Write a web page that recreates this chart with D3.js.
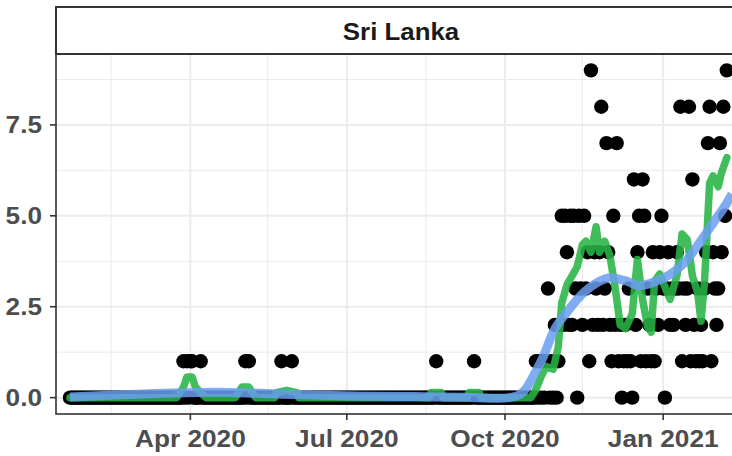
<!DOCTYPE html>
<html>
<head>
<meta charset="utf-8">
<script src="https://cdn.jsdelivr.net/npm/d3@7"></script>
<style>
  html, body { margin: 0; padding: 0; background: #ffffff; }
  svg { display: block; }
</style>
</head>
<body>
<svg id="chart" width="732" height="456"></svg>
<script>
// ---------------- DATA ----------------
const facetTitle = "Sri Lanka";
const firstDay = "2020-01-22";

// Daily deaths, one digit per day, starting at firstDay (one string per month)
const deathsByMonth = [
  "0000000000",                                   // Jan 22-31 2020
  "0000000000 0000000000 000000000",              // Feb 2020
  "0000000000 0000000000 0000000 1010",           // Mar 2020
  "1100001 0000000000 0000000000 000",            // Apr 2020
  "00101 0000000000 00000000 1 00000 10",         // May 2020
  "0000000000 0000000000 0000000000",             // Jun 2020
  "0000000000 0000000000 0000000000 0",           // Jul 2020
  "0000000000 0000000000 0 1 000000000",          // Aug 2020
  "0000000000 00 1 0000000000 0000000",           // Sep 2020
  "0000000000 00000000 1010101301020",            // Oct 2020
  "1252542525 3053253419 2432482374",             // Nov 2020
  "2152712012 1310624516 5132141324 5",           // Dec 2020
  "3034232343 8132381621 3121347814 3",           // Jan 2021
  "2374859"                                       // Feb 1-7 2021
];

// 7-day average line (green)
const avgDates = ["2020-01-22","2020-03-24","2020-03-26","2020-03-28","2020-03-30","2020-04-02","2020-04-04","2020-04-07","2020-04-10",
  "2020-04-27","2020-04-29","2020-05-01","2020-05-05","2020-05-07","2020-05-09","2020-05-20","2020-05-21","2020-05-27","2020-06-02","2020-06-03",
  "2020-08-18","2020-08-19","2020-08-25","2020-08-26","2020-09-09","2020-09-10","2020-09-16","2020-09-17",
  "2020-10-16","2020-10-19","2020-10-22","2020-10-25","2020-10-29","2020-11-01","2020-11-03","2020-11-06","2020-11-09","2020-11-12",
  "2020-11-15","2020-11-17","2020-11-20","2020-11-23","2020-11-25","2020-11-28","2020-12-01","2020-12-04","2020-12-07","2020-12-10",
  "2020-12-14","2020-12-17","2020-12-20","2020-12-23","2020-12-25","2020-12-27","2020-12-30","2021-01-02","2021-01-05","2021-01-09",
  "2021-01-12","2021-01-15","2021-01-18","2021-01-21","2021-01-23","2021-01-25","2021-01-27","2021-01-28","2021-01-30","2021-02-02",
  "2021-02-04","2021-02-07"];
const avgValues = [0,0,0.14,0.29,0.57,0.57,0.29,0.14,0,
  0,0.14,0.29,0.29,0.14,0,0,0.14,0.2,0.14,0,
  0,0.14,0.14,0,0,0.14,0.14,0,
  0,0.22,0.58,0.86,0.78,1.4,2.6,3.1,3.35,3.6,
  4.2,4.3,4.0,4.7,4.0,4.3,3.9,3.05,2.0,1.9,
  2.3,3.8,2.7,1.95,1.8,3.2,3.4,3.05,2.7,3.35,
  4.5,4.35,3.35,2.9,2.1,3.15,5.0,5.9,6.1,5.8,
  6.2,6.6];

// Smoothed trend (blue)
const trendDates = ["2020-01-22","2020-02-21","2020-03-22","2020-04-16","2020-05-11","2020-06-10","2020-07-10","2020-08-09",
  "2020-09-08","2020-09-28","2020-10-06","2020-10-10","2020-10-14","2020-10-17","2020-10-23","2020-10-29","2020-11-06",
  "2020-11-15","2020-11-25","2020-12-01","2020-12-11","2020-12-18","2020-12-28","2021-01-07","2021-01-15","2021-01-22",
  "2021-01-30","2021-02-07","2021-02-10"];
const trendValues = [0.02,0.08,0.13,0.15,0.12,0.07,0.04,0.03,
  0.01,-0.02,0.02,0.1,0.3,0.55,1.1,1.8,2.35,
  2.85,3.2,3.3,3.2,3.08,3.2,3.45,3.8,4.25,
  4.8,5.35,5.6];

const yTicks = [0, 2.5, 5, 7.5];
const yMinor = [1.25, 3.75, 6.25, 8.75];
const xTickDates = ["2020-04-01","2020-07-01","2020-10-01","2021-01-01"];
const xTickLabels = ["Apr 2020","Jul 2020","Oct 2020","Jan 2021"];
const xMinorDates = ["2020-02-15","2020-05-16","2020-08-16","2020-11-15","2021-02-15"];

// ---------------- BUILD ----------------
const parse = d3.utcParse("%Y-%m-%d");
const dailyDeaths = deathsByMonth.join("").replace(/\s/g, "").split("").map(Number);
const start = parse(firstDay);
const points = dailyDeaths.map((v, i) => ({ date: d3.utcDay.offset(start, i), value: v }));
const avg = avgDates.map((d, i) => ({ date: parse(d), value: avgValues[i] }));
const trend = trendDates.map((d, i) => ({ date: parse(d), value: trendValues[i] }));

const svg = d3.select("#chart");
const panel = { left: 56, right: 746, top: 54, bottom: 414 };
const strip = { top: 7, bottom: 54 };

const x = d3.scaleUtc()
  .domain([start, points[points.length - 1].date])
  .range([70, 726.8]);
const y = d3.scaleLinear().domain([-0.45, 9.45]).range([panel.bottom, panel.top]);

const FONT = "'Liberation Sans', Arial, Helvetica, sans-serif";

// panel background
svg.append("rect").attr("x", panel.left).attr("y", panel.top)
  .attr("width", panel.right - panel.left).attr("height", panel.bottom - panel.top)
  .attr("fill", "#ffffff");

svg.append("clipPath").attr("id", "clip").append("rect")
  .attr("x", panel.left).attr("y", panel.top)
  .attr("width", panel.right - panel.left).attr("height", panel.bottom - panel.top);

const grid = svg.append("g").attr("clip-path", "url(#clip)");
// minor grid
grid.selectAll(".ym").data(yMinor).join("line")
  .attr("x1", panel.left).attr("x2", panel.right)
  .attr("y1", d => y(d)).attr("y2", d => y(d))
  .attr("stroke", "#ebebeb").attr("stroke-width", 1);
grid.selectAll(".xm").data(xMinorDates.map(parse)).join("line")
  .attr("y1", panel.top).attr("y2", panel.bottom)
  .attr("x1", d => x(d)).attr("x2", d => x(d))
  .attr("stroke", "#ebebeb").attr("stroke-width", 1);
// major grid
grid.selectAll(".yM").data(yTicks).join("line")
  .attr("x1", panel.left).attr("x2", panel.right)
  .attr("y1", d => y(d)).attr("y2", d => y(d))
  .attr("stroke", "#ebebeb").attr("stroke-width", 2);
grid.selectAll(".xM").data(xTickDates.map(parse)).join("line")
  .attr("y1", panel.top).attr("y2", panel.bottom)
  .attr("x1", d => x(d)).attr("x2", d => x(d))
  .attr("stroke", "#ebebeb").attr("stroke-width", 2);

const plot = svg.append("g").attr("clip-path", "url(#clip)");

// black points
plot.selectAll("circle").data(points).join("circle")
  .attr("cx", d => x(d.date)).attr("cy", d => y(d.value))
  .attr("r", 7.2).attr("fill", "#000000");

// green 7-day average
plot.append("path").datum(avg)
  .attr("d", d3.line().x(d => x(d.date)).y(d => y(d.value)).curve(d3.curveLinear))
  .attr("fill", "none").attr("stroke", "#28b446").attr("stroke-opacity", 0.88)
  .attr("stroke-width", 7.5).attr("stroke-linejoin", "round").attr("stroke-linecap", "round");

// blue smooth trend
plot.append("path").datum(trend)
  .attr("d", d3.line().x(d => x(d.date)).y(d => y(d.value)).curve(d3.curveMonotoneX))
  .attr("fill", "none").attr("stroke", "#6a9ff0").attr("stroke-opacity", 0.85)
  .attr("stroke-width", 9).attr("stroke-linecap", "butt");

// panel border
svg.append("rect").attr("x", panel.left).attr("y", panel.top)
  .attr("width", panel.right - panel.left).attr("height", panel.bottom - panel.top)
  .attr("fill", "none").attr("stroke", "#333333").attr("stroke-width", 1.6);

// strip
svg.append("rect").attr("x", panel.left).attr("y", strip.top)
  .attr("width", panel.right - panel.left).attr("height", strip.bottom - strip.top)
  .attr("fill", "#ffffff").attr("stroke", "#333333").attr("stroke-width", 2);

function stretchedText(parent, tx, ty, str, anchor, size, color, sx) {
  parent.append("g").attr("transform", `translate(${tx},${ty}) scale(${sx},1)`)
    .append("text").attr("x", 0).attr("y", 0)
    .attr("text-anchor", anchor)
    .attr("font-family", FONT).attr("font-weight", "bold")
    .attr("font-size", size).attr("fill", color)
    .text(str);
}

stretchedText(svg, (panel.left + panel.right) / 2, 40, facetTitle, "middle", 23.5, "#1a1a1a", 1.1);

// y axis ticks and labels
const yAxis = svg.append("g");
yAxis.selectAll("line").data(yTicks).join("line")
  .attr("x1", panel.left - 6).attr("x2", panel.left)
  .attr("y1", d => y(d)).attr("y2", d => y(d))
  .attr("stroke", "#333333").attr("stroke-width", 1.6);
yTicks.forEach(t => {
  stretchedText(yAxis, 42, y(t) + 8, d3.format(".1f")(t), "end", 23, "#4d4d4d", 1.14);
});

// x axis ticks and labels
const xAxis = svg.append("g");
xTickDates.forEach((d, i) => {
  const px = x(parse(d));
  xAxis.append("line").attr("x1", px).attr("x2", px)
    .attr("y1", panel.bottom).attr("y2", panel.bottom + 6)
    .attr("stroke", "#333333").attr("stroke-width", 1.6);
  stretchedText(xAxis, px, 447, xTickLabels[i], "middle", 23, "#4d4d4d", 1.14);
});
</script>
</body>
</html>
